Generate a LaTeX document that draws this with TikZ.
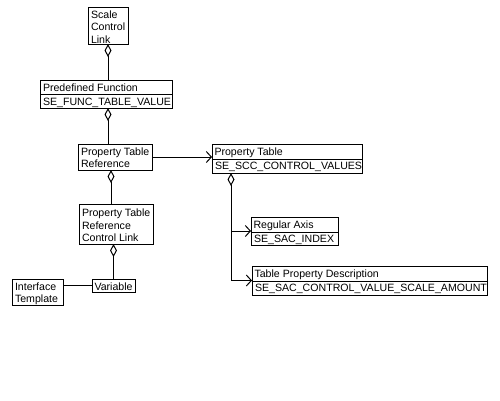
\documentclass[tikz,border=0pt]{standalone}
\usepackage{fontspec}
\setmainfont{Liberation Sans}
\usetikzlibrary{arrows.meta}
\begin{document}
\begin{tikzpicture}[x=1pt,y=-1pt,line width=1pt,
  box/.style={draw,anchor=north west,inner sep=0pt,outer sep=0pt},
  txt/.style={anchor=base west,inner sep=0pt,align=left,font=\fontsize{10.6}{12.5}\selectfont},
  dia/.tip={Diamond[open,length=13pt,width=7pt]},
  barb/.tip={Straight Barb[length=5pt,width=11pt]}]
\useasboundingbox[fill=white] (0,0) rectangle (500,400);
% boxes
\node[box,minimum width=40pt,minimum height=37pt] (scl) at (88,7) {};
\node[box,minimum width=132pt,minimum height=28pt] (pf) at (40,80) {};
\node[box,minimum width=74pt,minimum height=26pt] (ptr) at (78,144) {};
\node[box,minimum width=74pt,minimum height=40pt] (ptrcl) at (79,204) {};
\node[box,minimum width=43pt,minimum height=13pt] (var) at (92,279) {};
\node[box,minimum width=51pt,minimum height=26pt] (it) at (12,279) {};
\node[box,minimum width=150pt,minimum height=29pt] (pt) at (212,144) {};
\node[box,minimum width=87pt,minimum height=28pt] (ra) at (251,217) {};
\node[box,minimum width=235pt,minimum height=29pt] (tpd) at (252,266) {};
% dividers
\draw (pf.west |- 0,94) -- (pf.east |- 0,94);
\draw (pt.west |- 0,159) -- (pt.east |- 0,159);
\draw (ra.west |- 0,232) -- (ra.east |- 0,232);
\draw (tpd.west |- 0,281) -- (tpd.east |- 0,281);
% texts
\node[txt] (t1) at ([shift={(2.5,11)}]scl.north west) {Scale};
\node[txt] (t2) at ([shift={(2.5,23.5)}]scl.north west) {Control};
\node[txt] (t3) at ([shift={(2.5,36)}]scl.north west) {Link};
\node[txt] (t4) at ([shift={(2.5,11)}]pf.north west) {Predefined Function};
\node[txt] (t5) at ([shift={(2.5,25)}]pf.north west) {SE\_FUNC\_TABLE\_VALUE};
\node[txt] (t6) at ([shift={(2.5,11.5)}]ptr.north west) {Property Table};
\node[txt] (t7) at ([shift={(2.5,23.5)}]ptr.north west) {Reference};
\node[txt] (t8) at ([shift={(2.5,12.5)}]ptrcl.north west) {Property Table};
\node[txt] (t9) at ([shift={(2.5,25)}]ptrcl.north west) {Reference};
\node[txt] (t10) at ([shift={(2.5,37.5)}]ptrcl.north west) {Control Link};
\node[txt] (t11) at ([shift={(2,11)}]var.north west) {Variable};
\node[txt] (t12) at ([shift={(2.5,11.5)}]it.north west) {Interface};
\node[txt] (t13) at ([shift={(2.5,23.5)}]it.north west) {Template};
\node[txt] (t14) at ([shift={(2,11)}]pt.north west) {Property Table};
\node[txt] (t15) at ([shift={(2.5,25.5)}]pt.north west) {SE\_SCC\_CONTROL\_VALUES};
\node[txt] (t16) at ([shift={(2,11)}]ra.north west) {Regular Axis};
\node[txt] (t17) at ([shift={(2.5,25)}]ra.north west) {SE\_SAC\_INDEX};
\node[txt] (t18) at ([shift={(2,11)}]tpd.north west) {Table Property Description};
\node[txt] (t19) at ([shift={(2.5,25.5)}]tpd.north west) {SE\_SAC\_CONTROL\_VALUE\_SCALE\_AMOUNT};
% connectors
\draw[dia-] (scl.south) -- (scl.south |- pf.north);
\draw[dia-] (pf.south -| scl.south) -- (ptr.north -| scl.south);
\draw[dia-] ([xshift=-4pt]ptr.south) -- ([xshift=-4pt]ptr.south |- ptrcl.north);
\draw[dia-] (ptrcl.south -| var.north) -- (var.north);
\draw (it.east |- var.west) -- (var.west);
\draw[-barb] (ptr.east) -- (ptr.east -| pt.west);
\coordinate (pd) at ([xshift=19pt]pt.south west);
\draw[dia-barb] (pd) |- (tpd.west);
\draw[-barb] (pd |- ra.west) -- (ra.west);
\end{tikzpicture}
\end{document}
